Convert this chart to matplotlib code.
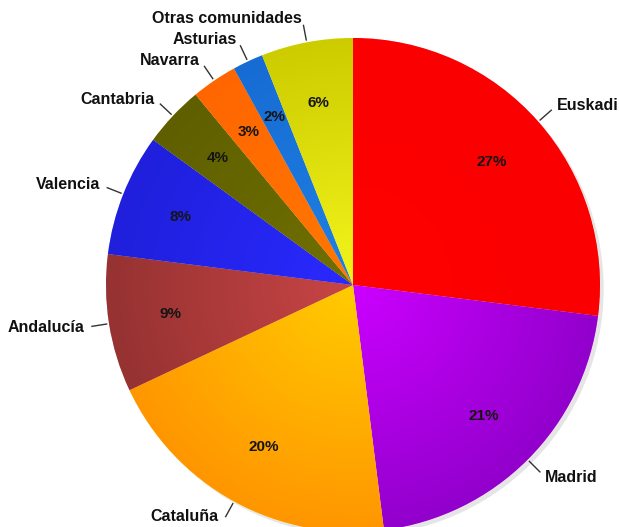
import numpy as np
import matplotlib
matplotlib.use("Agg")
import matplotlib.pyplot as plt
from matplotlib.colors import LinearSegmentedColormap
from matplotlib.patches import Circle

# Datos del gráfico
comunidades = ["Euskadi", "Madrid", "Cataluña", "Andalucía", "Valencia",
               "Cantabria", "Navarra", "Asturias", "Otras comunidades"]
porcentajes = [27, 21, 20, 9, 8, 4, 3, 2, 6]

# Colores (interior -> exterior) para simular el degradado
colores_int = ["#ff0000", "#cc00ff", "#ffcc00", "#c94545", "#2a2aff",
               "#707000", "#ff7800", "#1f80e2", "#f4f41c"]
colores_ext = ["#fa0000", "#9200cc", "#ff9600", "#963232", "#1f1fdc",
               "#5f5f00", "#ff6600", "#176cd4", "#cccc00"]

plt.rcParams['font.family'] = ['Liberation Sans', 'DejaVu Sans']

fig = plt.figure(figsize=(6.19, 5.27), dpi=100)
ax = fig.add_axes([0, 0, 1, 1])

R = 247.0
cx, cy = 353.0, 285.0

# sombra suave
ax.add_patch(Circle((0.015, -0.015), 1.0, color="#000000", alpha=0.10, lw=0, zorder=0))

wedges, textos, autotextos = ax.pie(
    porcentajes, labels=comunidades, startangle=90, counterclock=False,
    colors=colores_int, labeldistance=1.1, pctdistance=0.75,
    autopct=lambda p: f"{p:.0f}%",
    wedgeprops=dict(linewidth=0.4, edgecolor="#ffffff"),
    textprops=dict(fontsize=11.5, fontweight="bold", color="#111111"))

for t in autotextos:
    t.set_fontsize(11)
    t.set_color("#151515")
    t.set_zorder(5)

# Cataluña queda al borde inferior: subirla un poco
x, y = textos[2].get_position()
textos[2].set_position((x - 4 / R, y + 7 / R))

# degradado radial dentro de cada sector
xx, yy = np.meshgrid(np.linspace(-1, 1, 400), np.linspace(-1, 1, 400))
rr = np.sqrt(xx ** 2 + yy ** 2)
for w, ci, ce in zip(wedges, colores_int, colores_ext):
    cmap = LinearSegmentedColormap.from_list("g", [ci, ce])
    im = ax.imshow(rr, cmap=cmap, vmin=0, vmax=1, extent=[-1, 1, -1, 1],
                   origin="lower", zorder=2, interpolation="bilinear")
    im.set_clip_path(w)

# líneas guía hacia las etiquetas
for w in wedges:
    ang = np.deg2rad((w.theta1 + w.theta2) / 2)
    r0, r1 = 1.01, 1.07
    ax.plot([r0 * np.cos(ang), r1 * np.cos(ang)], [r0 * np.sin(ang), r1 * np.sin(ang)],
            color="#333333", lw=1.0, zorder=3)

ax.set_xlim(-cx / R, (619 - cx) / R)
ax.set_ylim(-(527 - cy) / R, cy / R)
ax.set_aspect("equal")
ax.axis("off")

fig.savefig("out.png", dpi=100)
